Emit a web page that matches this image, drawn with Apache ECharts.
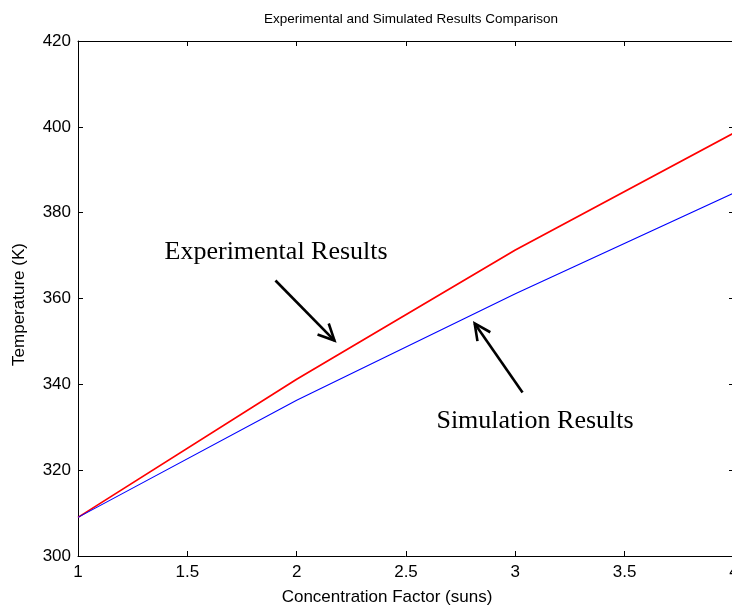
<!DOCTYPE html>
<html>
<head>
<meta charset="utf-8">
<script src="https://cdn.jsdelivr.net/npm/echarts@6/dist/echarts.min.js"></script>
<style>
  html, body { margin: 0; padding: 0; background: #fff; }
  #chart { width: 732px; height: 612px; }
</style>
</head>
<body>
<div id="chart"></div>
<script>
// Concentration factor (suns) and measured / simulated temperatures (K)
const concentration = [1, 2, 3, 4];
const experimental = [309, 341.2, 371.3, 398.6];
const simulated = [309, 336.3, 361.1, 384.6];
const xTicks = [1, 1.5, 2, 2.5, 3, 3.5, 4];
const yTicks = [300, 320, 340, 360, 380, 400, 420];

// Annotation arrows in data coordinates: [from, to]
const expArrow = [[1.903, 364.2], [2.173, 350.2]];
const simArrow = [[3.033, 338.1], [2.814, 354.2]];
const expLabel = [1.906, 370.7];
const simLabel = [3.09, 331.4];

const axisFont = 'Arial, "Liberation Sans", sans-serif';
const chart = echarts.init(document.getElementById('chart'));

const tickStyle = { show: true, inside: true, length: 5, lineStyle: { color: '#000', width: 1 } };

chart.setOption({
  animation: false,
  backgroundColor: '#fff',
  title: {
    text: 'Experimental and Simulated Results Comparison',
    left: 406, top: 7, textAlign: 'center',
    textStyle: { fontFamily: axisFont, fontSize: 13.5, fontWeight: 'normal', color: '#000' }
  },
  grid: { left: 78, right: -2, top: 41, bottom: 56, containLabel: false, outerBoundsMode: 'none' },
  xAxis: [{
    type: 'value', min: xTicks[0], max: xTicks[xTicks.length - 1], interval: 0.5,
    name: 'Concentration Factor (suns)', nameLocation: 'middle', nameGap: 33,
    nameTextStyle: { fontFamily: axisFont, fontSize: 17, color: '#000', padding: [0, 38, 0, 0] },
    axisLine: { show: true, lineStyle: { color: '#000', width: 1 } },
    axisTick: tickStyle,
    axisLabel: { fontFamily: axisFont, fontSize: 17, color: '#000', margin: 8, hideOverlap: false },
    splitLine: { show: false }
  }, {
    type: 'value', position: 'top', min: xTicks[0], max: xTicks[xTicks.length - 1], interval: 0.5,
    axisLine: { show: true, lineStyle: { color: '#000', width: 1 } },
    axisTick: tickStyle, axisLabel: { show: false }, splitLine: { show: false }
  }],
  yAxis: [{
    type: 'value', min: yTicks[0], max: yTicks[yTicks.length - 1], interval: 20,
    name: 'Temperature (K)', nameLocation: 'middle', nameGap: 50,
    nameTextStyle: { fontFamily: axisFont, fontSize: 17, color: '#000', padding: [0, 12, 0, 0] },
    axisLine: { show: true, lineStyle: { color: '#000', width: 1 } },
    axisTick: tickStyle,
    axisLabel: { fontFamily: axisFont, fontSize: 17, color: '#000', margin: 7 },
    splitLine: { show: false }
  }, {
    type: 'value', position: 'right', min: yTicks[0], max: yTicks[yTicks.length - 1], interval: 20,
    axisLine: { show: true, lineStyle: { color: '#000', width: 1 } },
    axisTick: tickStyle, axisLabel: { show: false }, splitLine: { show: false }
  }],
  series: [{
    name: 'Experimental Results', type: 'line', symbol: 'none',
    data: concentration.map((c, i) => [c, experimental[i]]),
    lineStyle: { color: '#ff0000', width: 1.7 }
  }, {
    name: 'Simulation Results', type: 'line', symbol: 'none',
    data: concentration.map((c, i) => [c, simulated[i]]),
    lineStyle: { color: '#0000ff', width: 1.1 }
  }]
});

// Open-headed arrow between two data points
function arrow(pair) {
  const a = chart.convertToPixel({ gridIndex: 0 }, pair[0]);
  const b = chart.convertToPixel({ gridIndex: 0 }, pair[1]);
  const ang = Math.atan2(b[1] - a[1], b[0] - a[0]);
  const len = 18, spread = 0.45;
  const h1 = [b[0] - len * Math.cos(ang - spread), b[1] - len * Math.sin(ang - spread)];
  const h2 = [b[0] - len * Math.cos(ang + spread), b[1] - len * Math.sin(ang + spread)];
  const style = { stroke: '#000', lineWidth: 2.6, fill: null, lineCap: 'butt' };
  return [
    { type: 'polyline', shape: { points: [a, b] }, style: style },
    { type: 'polyline', shape: { points: [h1, b, h2] }, style: style }
  ];
}

function label(text, pos) {
  const p = chart.convertToPixel({ gridIndex: 0 }, pos);
  return {
    type: 'text', x: p[0], y: p[1],
    style: {
      text: text, fill: '#000', align: 'center', verticalAlign: 'middle',
      font: '26px "Liberation Serif", "Times New Roman", serif'
    }
  };
}

chart.setOption({
  graphic: [].concat(
    arrow(expArrow), arrow(simArrow),
    [label('Experimental Results', expLabel), label('Simulation Results', simLabel)]
  )
});
</script>
</body>
</html>
